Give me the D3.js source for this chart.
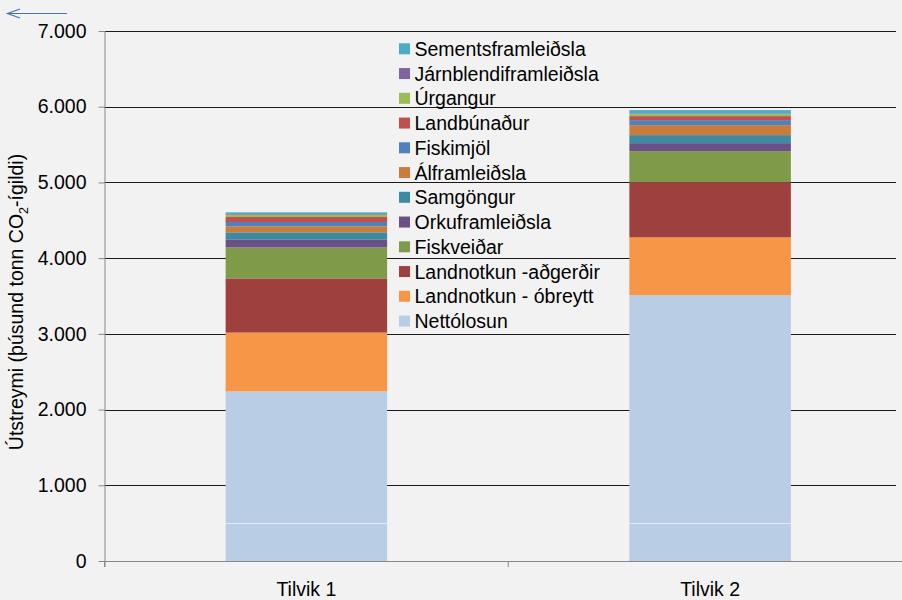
<!DOCTYPE html>
<html>
<head>
<meta charset="utf-8">
<script src="https://cdn.jsdelivr.net/npm/d3@7"></script>
<style>
  html, body { margin: 0; padding: 0; background: #f2f2f2; }
  svg { display: block; font-family: "Liberation Sans", Arial, Helvetica, sans-serif; }
</style>
</head>
<body>
<div id="chart"></div>
<script>
// Stacked emissions for two scenarios, bottom of stack first
const categories = ["Tilvik 1", "Tilvik 2"];
const seriesNames = [
  "Nettólosun", "Landnotkun - óbreytt", "Landnotkun -aðgerðir", "Fiskveiðar",
  "Orkuframleiðsla", "Samgöngur", "Álframleiðsla", "Fiskimjöl",
  "Landbúnaður", "Úrgangur", "Járnblendiframleiðsla", "Sementsframleiðsla"
];
const tilvik1 = [2240, 777, 715, 410, 106, 93, 79, 57, 66, 32, 8, 22];
const tilvik2 = [3511, 764, 728, 410, 106, 106, 132, 66, 53, 26, 9, 44];
const seriesColors = [
  "#b9cde5", "#f79646", "#9d403e", "#7f9a48",
  "#6a5087", "#3d8ba3", "#cc7c3a", "#4f81bd",
  "#c0504d", "#9bbb59", "#8064a2", "#4bacc6"
];
const yTicks = [0, 1000, 2000, 3000, 4000, 5000, 6000, 7000];

const W = 902, H = 600;
const plotL = 104.5, plotT = 31, plotB = 561, gridR = 896;
const FS = 19.5;

const rows = categories.map((c, i) => {
  const o = { cat: c };
  seriesNames.forEach((s, j) => o[s] = [tilvik1, tilvik2][i][j]);
  return o;
});
const stacked = d3.stack().keys(seriesNames)(rows);

const x = d3.scaleBand().domain(categories).range([plotL, 912]).paddingInner(0.6).paddingOuter(0.3);
const y = d3.scaleLinear().domain([0, 7000]).range([plotB, plotT]);
const color = d3.scaleOrdinal().domain(seriesNames).range(seriesColors);
const fmt = d3.formatLocale({ decimal: ",", thousands: ".", grouping: [3], currency: ["", ""] }).format(",");

const svg = d3.select("#chart").append("svg").attr("width", W).attr("height", H);
svg.append("rect").attr("width", W).attr("height", H).attr("fill", "#f2f2f2");

// gridlines
svg.append("g").selectAll("line").data(yTicks.filter(t => t > 0)).join("line")
  .attr("x1", plotL).attr("x2", gridR)
  .attr("y1", d => Math.round(y(d)) + 0.5).attr("y2", d => Math.round(y(d)) + 0.5)
  .attr("stroke", "#1a1a1a").attr("stroke-width", 1);

// bars
const barsG = svg.append("g");
barsG.selectAll("g").data(stacked).join("g")
  .attr("fill", d => color(d.key))
  .selectAll("rect").data(d => d).join("rect")
  .attr("x", d => x(d.data.cat))
  .attr("width", x.bandwidth())
  .attr("y", d => y(d[1]))
  .attr("height", d => y(d[0]) - y(d[1]));

// faint white seam inside the base series
barsG.selectAll("line.seam").data(categories).join("line")
  .attr("class", "seam")
  .attr("x1", d => x(d)).attr("x2", d => x(d) + x.bandwidth())
  .attr("y1", Math.round(y(500)) + 0.5).attr("y2", Math.round(y(500)) + 0.5)
  .attr("stroke", "#ffffff").attr("stroke-opacity", 0.6);

// y axis
const yAxis = svg.append("g").attr("transform", `translate(${plotL},0)`)
  .call(d3.axisLeft(y).tickValues(yTicks).tickSize(6).tickPadding(12).tickFormat(fmt));
yAxis.select(".domain").attr("d", `M0.5,${plotT}V${plotB + 6}`).attr("stroke", "#888");
yAxis.selectAll(".tick line").attr("stroke", "#888");
yAxis.selectAll(".tick text").attr("font-size", FS).attr("fill", "#000").attr("font-family", null);

// x axis
const xAxisG = svg.append("g");
xAxisG.append("line").attr("x1", plotL).attr("x2", W).attr("y1", plotB + 0.5).attr("y2", plotB + 0.5).attr("stroke", "#888");
const step = x.step();
xAxisG.selectAll("line.tk").data(d3.range(categories.length + 1)).join("line")
  .attr("class", "tk")
  .attr("x1", i => plotL + i * step).attr("x2", i => plotL + i * step)
  .attr("y1", plotB).attr("y2", plotB + 6).attr("stroke", "#888");
xAxisG.selectAll("text").data(categories).join("text")
  .attr("x", d => x(d) + x.bandwidth() / 2).attr("y", 596)
  .attr("text-anchor", "middle").attr("font-size", FS).text(d => d);

// y label
const yl = svg.append("text").attr("transform", "translate(23,302) rotate(-90)")
  .attr("text-anchor", "middle").attr("font-size", FS);
yl.append("tspan").text("Útstreymi (þúsund tonn CO");
yl.append("tspan").attr("font-size", 12.5).attr("dy", 5).text("2");
yl.append("tspan").attr("dy", -5).text("-ígildi)");

// legend, top of stack first
const legend = svg.append("g").attr("transform", "translate(399,48.8)");
const li = legend.selectAll("g").data(seriesNames.slice().reverse()).join("g")
  .attr("transform", (d, i) => `translate(0,${i * 24.75})`);
li.append("rect").attr("x", 0).attr("y", -5.5).attr("width", 11).attr("height", 11).attr("fill", d => color(d));
li.append("text").attr("x", 15.5).attr("y", 0).attr("dy", "0.36em").attr("font-size", FS).text(d => d);

// stray arrow top-left
svg.append("line").attr("x1", 7).attr("x2", 67).attr("y1", 13.5).attr("y2", 13.5).attr("stroke", "#3f76c4").attr("stroke-width", 1.2);
svg.append("path").attr("d", "M20,9 L7.5,13.5 L20,18").attr("fill", "none").attr("stroke", "#3f76c4").attr("stroke-width", 1.2);
</script>
</body>
</html>
